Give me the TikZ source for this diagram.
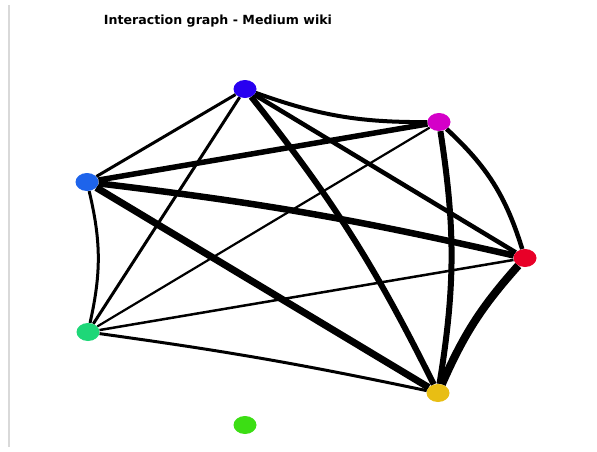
\documentclass[tikz,border=0pt]{standalone}
\usepackage{fontspec}
\setsansfont{DejaVu Sans}
\usepackage{tikz}
\usetikzlibrary{shapes.geometric,backgrounds}
\usepackage{xcolor}
\definecolor{violetnode}{RGB}{40,0,240}
\definecolor{magentanode}{RGB}{212,0,200}
\definecolor{bluenode}{RGB}{30,100,235}
\definecolor{rednode}{RGB}{232,0,40}
\definecolor{tealnode}{RGB}{30,215,120}
\definecolor{yellownode}{RGB}{232,190,20}
\definecolor{limenode}{RGB}{60,222,20}

\begin{document}
\begin{tikzpicture}[x=1pt,y=-1pt,
  vtx/.style={ellipse,minimum width=23pt,minimum height=18pt,inner sep=0pt},
  lnk/.style={line width=#1,black}]
\useasboundingbox (0,0) rectangle (597,451);
\draw[black!15,line width=1.5pt] (9,5) -- (9,447);
\node[font=\sffamily\bfseries\fontsize{12.6}{15}\selectfont] (title) at (218,21) {Interaction graph - Medium wiki};
\node[vtx,fill=violetnode] (top) at (245,89) {};
\node[vtx,fill=magentanode] (upr) at (439,122) {};
\node[vtx,fill=bluenode] (upl) at (87,182) {};
\node[vtx,fill=rednode] (rgt) at (525,258) {};
\node[vtx,fill=tealnode] (lwl) at (88,332) {};
\node[vtx,fill=yellownode] (lwr) at (438,393) {};
\node[vtx,fill=limenode] (iso) at (245,425) {};
\begin{scope}[on background layer]
\draw[lnk=4pt] (top) to[bend right=10] (upr);
\draw[lnk=3pt] (top) -- (upl);
\draw[lnk=3pt] (top) -- (lwl);
\draw[lnk=4.5pt] (top) -- (rgt);
\draw[lnk=6pt] (top) to[bend left=6] (lwr);
\draw[lnk=5.5pt] (upl) -- (upr);
\draw[lnk=6.5pt] (upl) to[bend left=3] (rgt);
\draw[lnk=7pt] (upl) -- (lwr);
\draw[lnk=3pt] (upl) to[bend left=13] (lwl);
\draw[lnk=4.5pt] (upr) to[bend left=15] (rgt);
\draw[lnk=6pt] (upr) to[bend left=9] (lwr);
\draw[lnk=2.2pt] (upr) -- (lwl);
\draw[lnk=8pt] (rgt) to[bend right=9] (lwr);
\draw[lnk=2.5pt] (rgt) -- (lwl);
\draw[lnk=3pt] (lwl) to[bend left=2] (lwr);
\end{scope}
\end{tikzpicture}
\end{document}
